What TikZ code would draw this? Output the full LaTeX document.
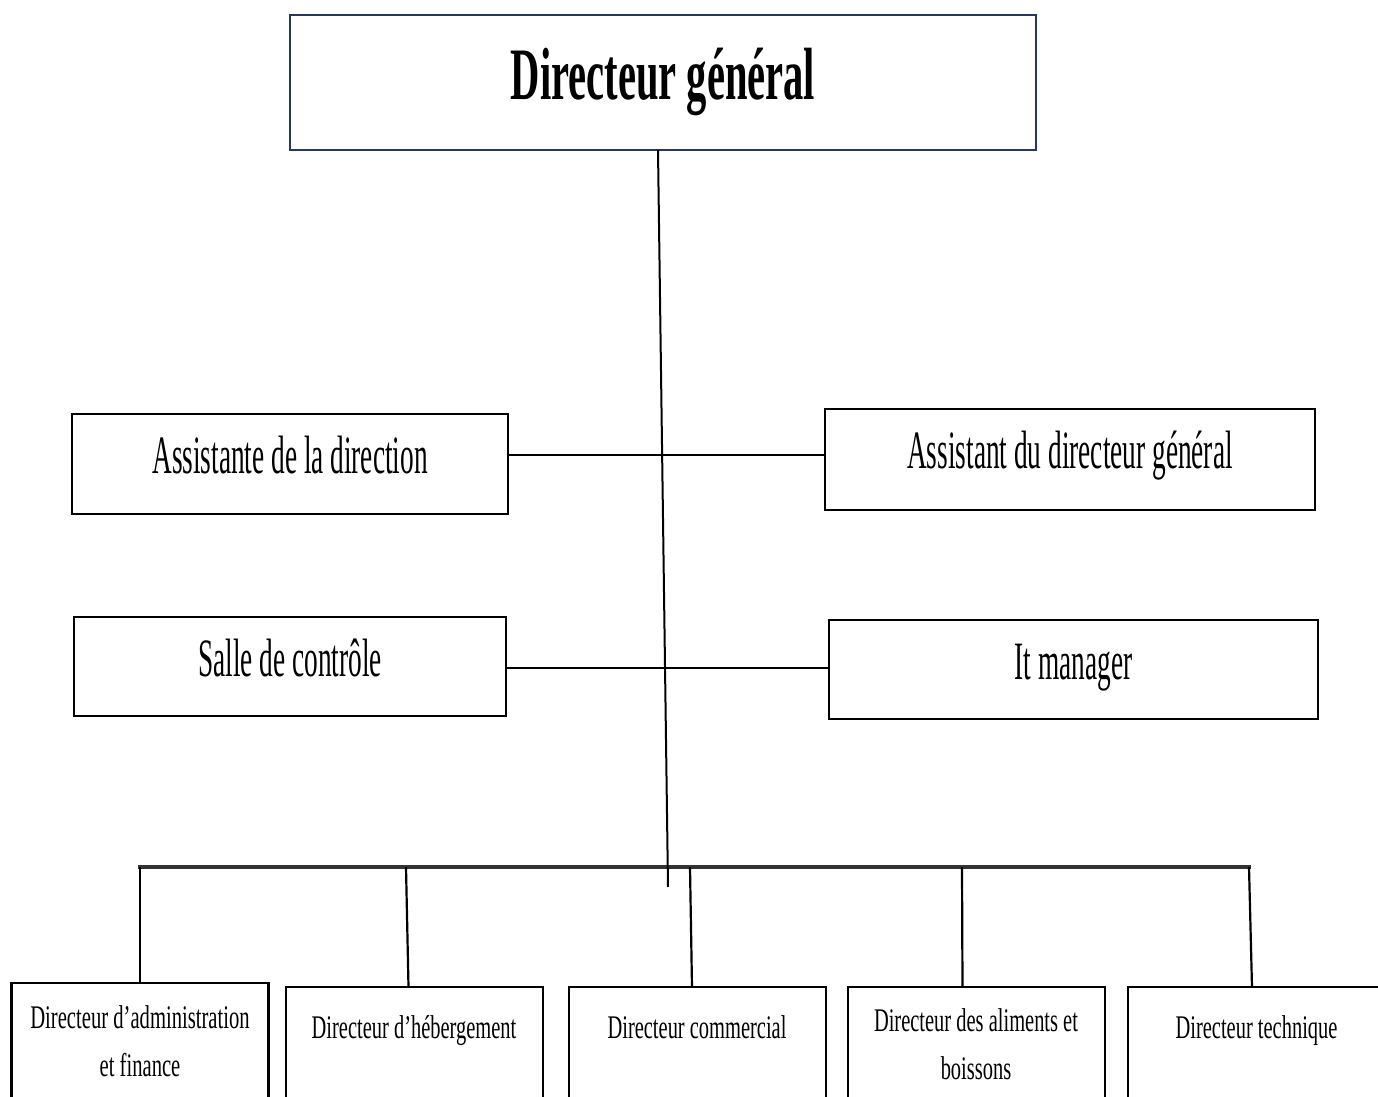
\documentclass[tikz,border=0pt]{standalone}
\usepackage{fontspec}
\setmainfont{Liberation Serif}
\usepackage{graphicx}
\definecolor{titleblue}{RGB}{40,55,95}
\newcommand{\sq}[2]{\scalebox{#1}[1]{#2}}
\begin{document}
\begin{tikzpicture}[x=0.5pt,y=-0.5pt,
  box/.style={draw=black,line width=1.4pt,inner sep=0pt,outer sep=0pt,fill=white},
  lowbox/.style={box,line width=1.3pt,minimum width=128.5pt,minimum height=76.5pt},
  conn/.style={draw=black,line width=1.1pt},
  ttl/.style={anchor=base,inner sep=0pt,font=\fontsize{37}{40}\selectfont\bfseries},
  mid/.style={anchor=base,inner sep=0pt,font=\fontsize{27}{30}\selectfont},
  bt/.style={anchor=base,inner sep=0pt,font=\fontsize{16.5}{18}\selectfont}]
\useasboundingbox (0,0) rectangle (1378,1097);
\clip (0,0) rectangle (1378,1097);
\fill[white] (0,0) rectangle (1378,1097);

% boxes
\node[box,draw=titleblue,line width=1.1pt,minimum width=373pt,minimum height=67.5pt] (dg) at (663,82.5) {};
\node[box,minimum width=218pt,minimum height=50pt] (asst) at (290,464) {};
\node[box,minimum width=245pt,minimum height=50.5pt] (asstdg) at (1070,459.5) {};
\node[box,minimum width=216pt,minimum height=49.5pt] (salle) at (290,666.5) {};
\node[box,minimum width=244.5pt,minimum height=49.5pt] (itm) at (1073.5,669.5) {};
\node[lowbox,minimum height=78.5pt] (b1) at (140,1061.5) {};
\node[lowbox] (b2) at (414.5,1063.5) {};
\node[lowbox] (b3) at (697.5,1063.5) {};
\node[lowbox] (b4) at (976.5,1063.5) {};
\node[lowbox,minimum width=127pt] (b5) at (1255,1063.5) {};

% helper coordinates
\coordinate (h1) at (663,455);
\coordinate (h2) at (663,668);
\coordinate (busL) at (138,867);
\coordinate (busR) at (1251,867);
\coordinate (mainend) at (668,887);
\coordinate (d1) at (140,867);
\coordinate (d2) at (406,867);
\coordinate (d3) at (690,867);
\coordinate (d4) at (962,867);
\coordinate (d5) at (1249,867);

% connectors
\draw[conn] (asst.east|-h1) -- (asstdg.west|-h1);
\draw[conn] (salle.east|-h2) -- (itm.west|-h2);
\draw[line width=1.8pt,draw=black!80] (busL) -- (busR);
\draw[conn] (d1) -- (b1.north);
\draw[conn] (d2) -- ([xshift=-3pt]b2.north);
\draw[conn] (d3) -- ([xshift=-2.75pt]b3.north);
\draw[conn] (d4) -- ([xshift=-7pt]b4.north);
\draw[conn] (d5) -- ([xshift=-1.5pt]b5.north);
\draw[draw=black,line width=1pt] ([xshift=-2.5pt]dg.south) -- (mainend);

% texts
\node[ttl] (dgt) at (663,100) {\sq{0.548}{Directeur général}};
\node[mid] (asstt) at (290,473) {\sq{0.506}{Assistante de la direction}};
\node[mid] (asstdgt) at (1070,468) {\sq{0.506}{Assistant du directeur général}};
\node[mid] (sallet) at (290,676) {\sq{0.506}{Salle de contrôle}};
\node[mid] (itmt) at (1073.5,679) {\sq{0.506}{It manager}};
\node[bt] (b1t1) at (140,1028) {\sq{0.625}{Directeur d’administration}};
\node[bt] (b1t2) at (140,1076) {\sq{0.625}{et finance}};
\node[bt] (b2t) at (414,1038) {\sq{0.62}{Directeur d’hébergement}};
\node[bt] (b3t) at (697,1038) {\sq{0.62}{Directeur commercial}};
\node[bt] (b4t1) at (976,1031) {\sq{0.62}{Directeur des aliments et}};
\node[bt] (b4t2) at (976,1079) {\sq{0.62}{boissons}};
\node[bt] (b5t) at (1256.5,1038) {\sq{0.62}{Directeur technique}};
\end{tikzpicture}
\end{document}
